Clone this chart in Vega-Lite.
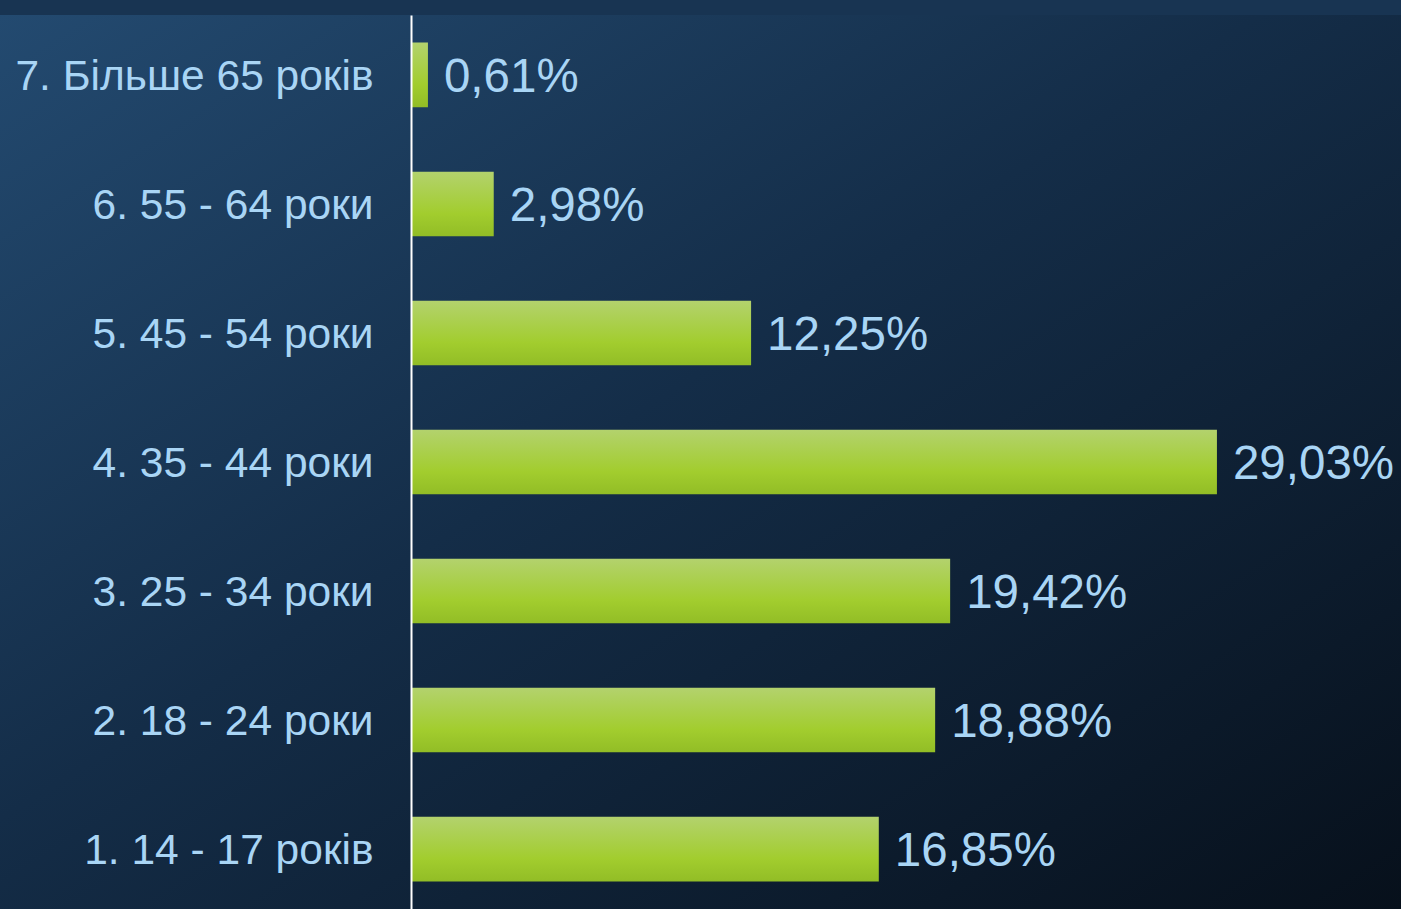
{
  "$schema": "https://vega.github.io/schema/vega-lite/v6.json",
  "width": 990,
  "height": 894,
  "autosize": {"type": "none"},
  "padding": {"left": 411, "top": 15, "right": 0, "bottom": 0},
  "background": "#183452",
  "config": {"view": {"stroke": null}, "font": "Liberation Sans"},
  "layer": [
    {
      "data": {"values": [{"x0": -14.81, "x1": 35.66}]},
      "mark": {
        "type": "rect",
        "fill": {
          "gradient": "linear",
          "x1": 0, "y1": 0, "x2": 1, "y2": 1,
          "stops": [
            {"offset": 0, "color": "#234a70"},
            {"offset": 0.45, "color": "#142d48"},
            {"offset": 1, "color": "#07101b"}
          ]
        }
      },
      "encoding": {
        "x": {"field": "x0", "type": "quantitative", "scale": {"domain": [0, 35.66]}, "axis": null},
        "x2": {"field": "x1"}
      }
    },
    {
      "data": {
        "values": [
          {"group": "7. Більше 65 років", "pct": 0.61, "label": "0,61%"},
          {"group": "6. 55 - 64 роки", "pct": 2.98, "label": "2,98%"},
          {"group": "5. 45 - 54 роки", "pct": 12.25, "label": "12,25%"},
          {"group": "4. 35 - 44 роки", "pct": 29.03, "label": "29,03%"},
          {"group": "3. 25 - 34 роки", "pct": 19.42, "label": "19,42%"},
          {"group": "2. 18 - 24 роки", "pct": 18.88, "label": "18,88%"},
          {"group": "1. 14 - 17 років", "pct": 16.85, "label": "16,85%"}
        ]
      },
      "encoding": {
        "y": {
          "field": "group",
          "type": "nominal",
          "sort": null,
          "scale": {"paddingInner": 0.5, "paddingOuter": 0.214},
          "axis": {
            "title": null,
            "ticks": false,
            "grid": false,
            "domain": true,
            "domainColor": "#ffffff",
            "domainWidth": 2,
            "labelColor": "#a9d5f5",
            "labelFont": "Liberation Sans",
            "labelFontSize": 42.5,
            "labelPadding": 38,
            "labelLimit": 500,
            "labelOffset": 2,
            "zindex": 1
          }
        },
        "x": {"field": "pct", "type": "quantitative", "scale": {"domain": [0, 35.66]}, "axis": null}
      },
      "layer": [
        {
          "mark": {
            "type": "bar",
            "fill": {
              "gradient": "linear",
              "x1": 0, "y1": 0, "x2": 0, "y2": 1,
              "stops": [
                {"offset": 0, "color": "#b3d26d"},
                {"offset": 0.65, "color": "#a2cd2e"},
                {"offset": 1, "color": "#92bd26"}
              ]
            }
          }
        },
        {
          "mark": {
            "type": "text",
            "align": "left",
            "baseline": "middle",
            "dx": 16,
            "dy": 3,
            "fontSize": 47.5,
            "color": "#a9d5f5",
            "font": "Liberation Sans"
          },
          "encoding": {"text": {"field": "label"}}
        }
      ]
    }
  ]
}
